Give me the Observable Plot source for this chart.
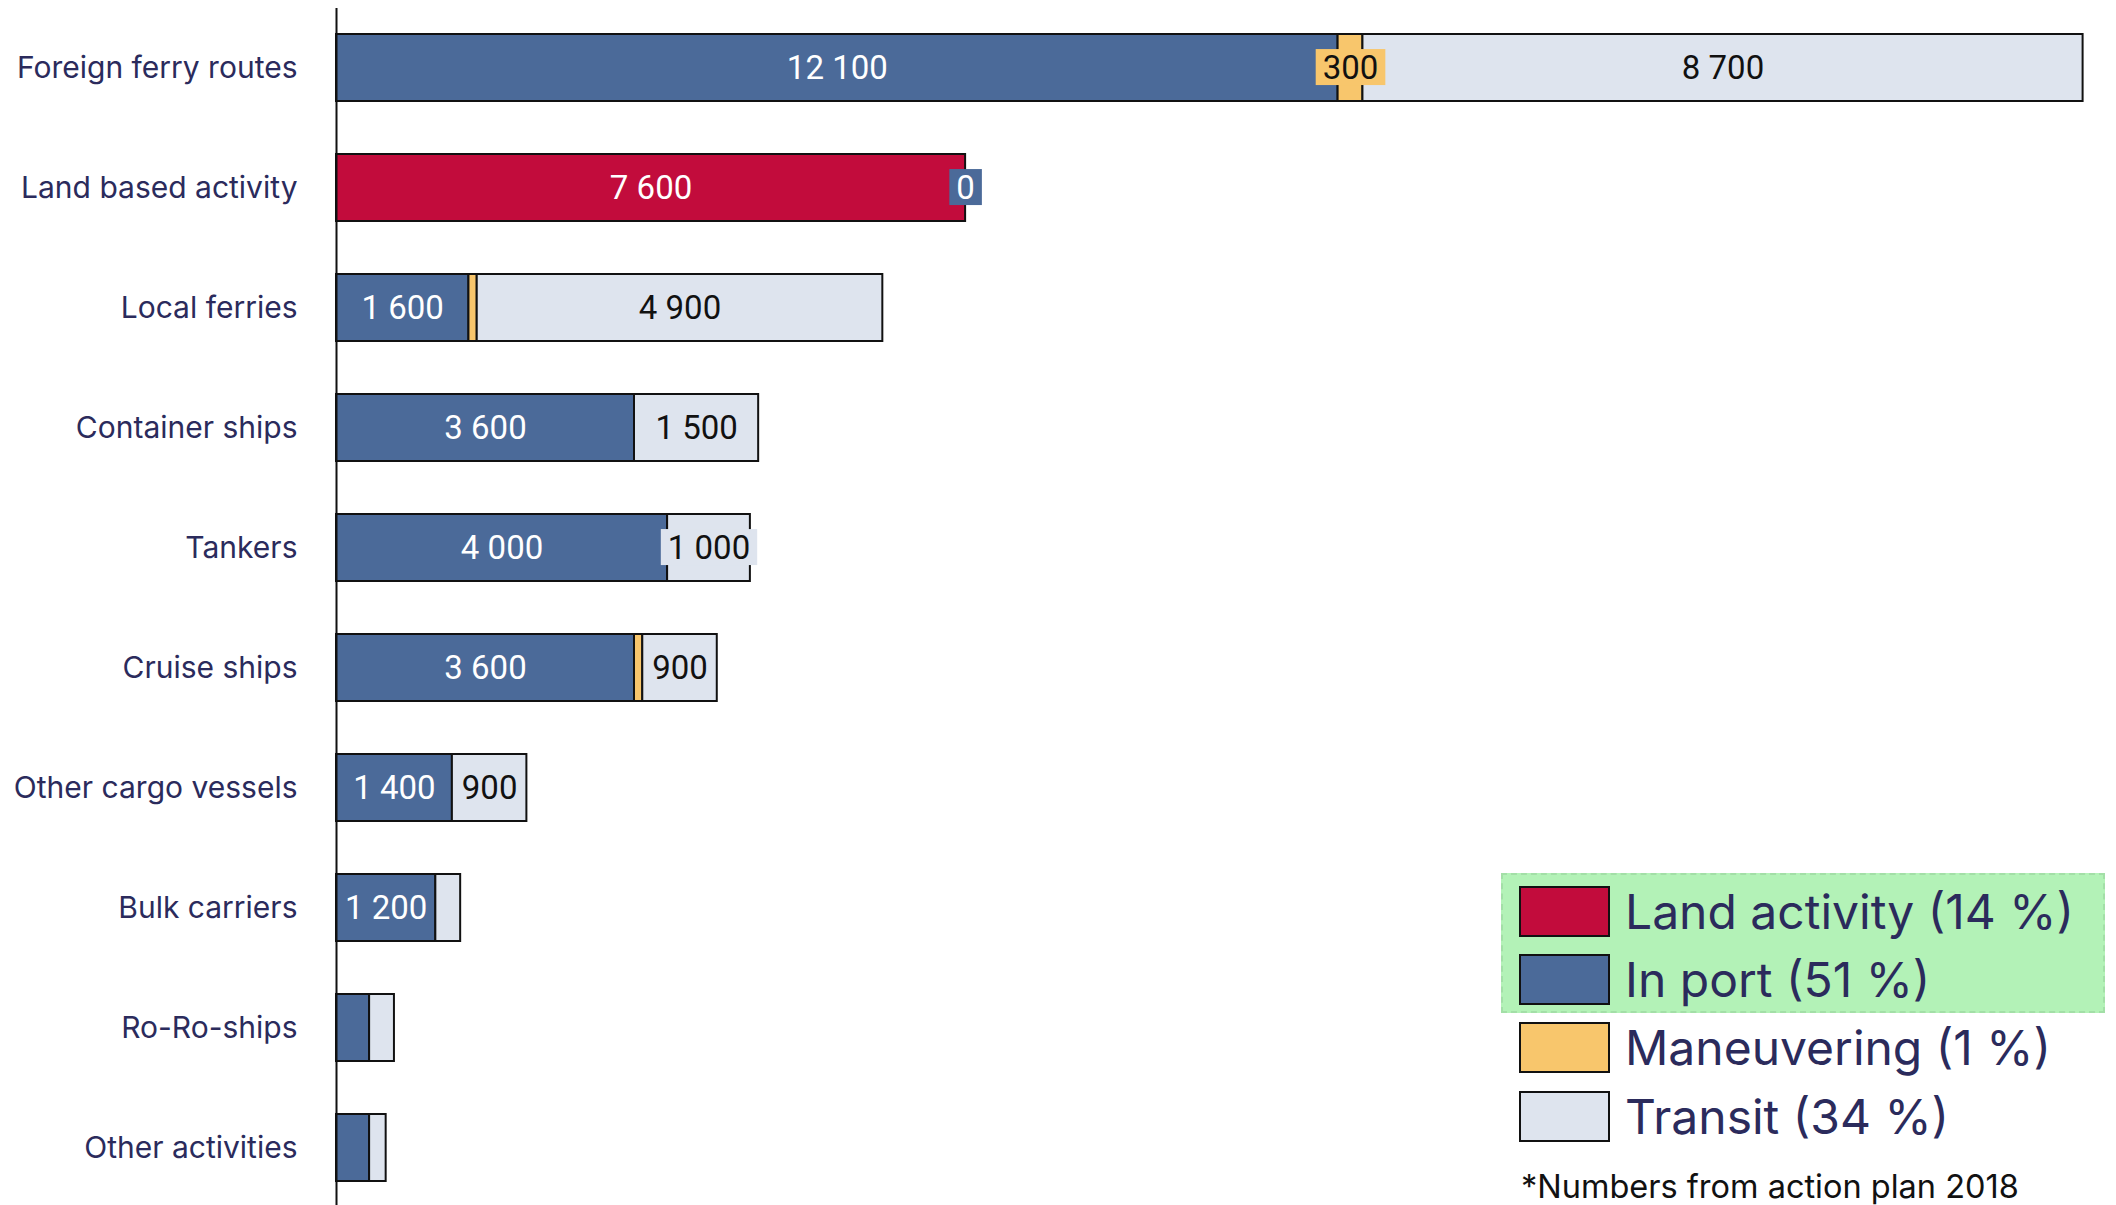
<!DOCTYPE html>
<html><head><meta charset="utf-8">
<script src="https://cdn.jsdelivr.net/npm/d3@7"></script>
<script src="https://cdn.jsdelivr.net/npm/@observablehq/plot@0.6"></script>
<style>
html,body{margin:0;padding:0;background:#fff;overflow:hidden;}
#wrap{position:relative;width:2116px;height:1205px;font-family:Inter, Roboto, sans-serif;}
#legend{position:absolute;left:1501px;top:873px;width:604px;height:300px;}
.hl{position:absolute;left:0;top:0;width:604px;height:140px;background:#b3f2b7;border:2px dashed #a3dfa7;box-sizing:border-box;}
.row{position:absolute;left:17.5px;height:51px;display:flex;align-items:center;}
.sw{width:91px;height:51px;box-sizing:border-box;border:2px solid #111;flex:none;}
.lt{margin-left:15.5px;font-size:48px;color:#2b2b5c;line-height:51px;white-space:nowrap;}
#note{position:absolute;left:1521px;top:1171px;font-size:32.5px;line-height:32px;color:#111;white-space:nowrap;}
</style></head><body><div id="wrap"></div>
<script>
const categories = ["Foreign ferry routes","Land based activity","Local ferries","Container ships","Tankers","Cruise ships","Other cargo vessels","Bulk carriers","Ro-Ro-ships","Other activities"];
const seriesNames = ["Land activity","In port","Maneuvering","Transit"];
const seriesShares = [14, 51, 1, 34];
const landActivity = [0, 7600, 0, 0, 0, 0, 0, 0, 0, 0];
const inPort       = [12100, 0, 1600, 3600, 4000, 3600, 1400, 1200, 400, 400];
const maneuvering  = [300, 0, 100, 0, 0, 100, 0, 0, 0, 0];
const transit      = [8700, 0, 4900, 1500, 1000, 900, 900, 300, 300, 200];
const seriesColors = ["#c20c3c", "#4b6a99", "#f8c66c", "#dee4ee"];
const footnote = "*Numbers from action plan 2018";
// which segments carry a value label
const plainLabels = [
  ["Foreign ferry routes","In port"],["Foreign ferry routes","Transit"],
  ["Land based activity","Land activity"],
  ["Local ferries","In port"],["Local ferries","Transit"],
  ["Container ships","In port"],["Container ships","Transit"],
  ["Tankers","In port"],
  ["Cruise ships","In port"],["Cruise ships","Transit"],
  ["Other cargo vessels","In port"],["Other cargo vessels","Transit"],
  ["Bulk carriers","In port"]
];
const boxedLabels = [
  ["Foreign ferry routes","Maneuvering"],["Land based activity","In port"],["Tankers","Transit"]
];

const seriesValues = [landActivity, inPort, maneuvering, transit];
const table = categories.flatMap((c, i) => seriesNames.map((s, j) => ({category: c, series: s, value: seriesValues[j][i]})));
const totals = categories.map((c, i) => seriesValues.reduce((a, v) => a + v[i], 0));

const fmt = d3.formatLocale({thousands: "\u00a0", grouping: [3], decimal: ".", currency: ["", ""]}).format(",");
const has = (list, d) => list.some(([c, s]) => c === d.category && s === d.series);
const darkSeries = new Set(["Land activity", "In port"]);

const labelText = (list, light) => d => (has(list, d) && darkSeries.has(d.series) === light) ? fmt(d.value) : null;

const textOpts = {fontSize: 33, fontFamily: "Roboto, sans-serif"};

const plot = Plot.plot({
  width: 2116, height: 1205,
  marginLeft: 336, marginRight: 33.4, marginTop: 8, marginBottom: 0,
  x: {domain: [0, d3.max(totals)], axis: null},
  y: {domain: categories, range: [7.5, 1207.5], paddingInner: 0.44, paddingOuter: 0.22, label: null, tickSize: 0, tickPadding: 39},
  color: {domain: seriesNames, range: seriesColors},
  style: {fontFamily: "Inter, Roboto, sans-serif", fontSize: "30px", color: "#2b2b5c", background: "white", overflow: "visible"},
  marks: [
    Plot.barX(table, Plot.stackX({x: "value", y: "category", fill: "series", stroke: "#111", strokeWidth: 2, filter: d => d.value > 0})),
    Plot.text(table, Plot.stackX({x: "value", y: "category", text: labelText(plainLabels, true), fill: "white", ...textOpts})),
    Plot.text(table, Plot.stackX({x: "value", y: "category", text: labelText(plainLabels, false), fill: "#111", ...textOpts})),
    Plot.text(table, Plot.stackX({x: "value", y: "category", text: labelText(boxedLabels, true), fill: "white", ariaLabel: d => "boxed " + d.series, ...textOpts})),
    Plot.text(table, Plot.stackX({x: "value", y: "category", text: labelText(boxedLabels, false), fill: "#111", ariaLabel: d => "boxed " + d.series, ...textOpts})),
    Plot.ruleX([0], {stroke: "#111", strokeWidth: 2})
  ]
});

const wrap = document.getElementById("wrap");
wrap.appendChild(plot);

// background boxes behind labels that overflow their segment
const color = plot.scale("color");
const cscale = d3.scaleOrdinal(color.domain, color.range);
plot.querySelectorAll('text[aria-label^="boxed"]').forEach(t => {
  const series = t.getAttribute("aria-label").slice(6);
  const bb = t.getBBox();
  const r = document.createElementNS("http://www.w3.org/2000/svg", "rect");
  const padX = 7, h = 36;
  r.setAttribute("x", bb.x - padX);
  r.setAttribute("width", bb.width + 2 * padX);
  r.setAttribute("y", bb.y + bb.height / 2 - h / 2);
  r.setAttribute("height", h);
  r.setAttribute("fill", cscale(series));
  r.setAttribute("stroke", "none");
  if (t.getAttribute("transform")) r.setAttribute("transform", t.getAttribute("transform"));
  t.parentNode.insertBefore(r, t);
});

// legend
const legend = document.createElement("div");
legend.id = "legend";
const hl = document.createElement("div");
hl.className = "hl";
legend.appendChild(hl);
seriesNames.forEach((s, i) => {
  const row = document.createElement("div");
  row.className = "row";
  row.style.top = (13 + i * 68.2) + "px";
  const sw = document.createElement("div");
  sw.className = "sw";
  sw.style.background = cscale(s);
  const lt = document.createElement("div");
  lt.className = "lt";
  lt.textContent = `${s} (${seriesShares[i]} %)`;
  row.appendChild(sw); row.appendChild(lt);
  legend.appendChild(row);
});
wrap.appendChild(legend);

const note = document.createElement("div");
note.id = "note";
note.textContent = footnote;
wrap.appendChild(note);
</script></body></html>
